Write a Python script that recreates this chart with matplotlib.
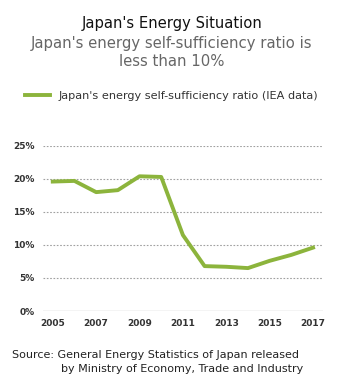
import matplotlib.pyplot as plt
from matplotlib.ticker import FuncFormatter

years = [2005, 2006, 2007, 2008, 2009, 2010, 2011, 2012, 2013, 2014, 2015, 2016, 2017]
ratio = [19.6, 19.7, 18.0, 18.3, 20.4, 20.3, 11.5, 6.8, 6.7, 6.5, 7.6, 8.5, 9.6]
year_ticks = [2005, 2007, 2009, 2011, 2013, 2015, 2017]
pct_ticks = [0, 5, 10, 15, 20, 25]

line_color = '#8cb43c'
tick_color = '#333333'

fig = plt.figure(figsize=(3.44, 3.77), dpi=100)
ax = fig.add_axes([0.125, 0.175, 0.814, 0.438])

ax.plot(years, ratio, color=line_color, linewidth=2.8, solid_joinstyle='round',
        label="Japan's energy self-sufficiency ratio (IEA data)")

ax.set_xlim(2004.55, 2017.46)
ax.set_ylim(0, 25)
ax.set_xticks(year_ticks)
ax.set_yticks(pct_ticks)
ax.yaxis.set_major_formatter(FuncFormatter(lambda v, p: f'{v:.0f}%'))

for v in pct_ticks[1:]:
    ax.axhline(v, color='#a0a0a0', linewidth=0.8, linestyle=(0, (1.5, 1.5)), zorder=0)
ax.axhline(0, color='#c8c8c8', linewidth=1.0, zorder=0)

for side in ['top', 'right', 'left', 'bottom']:
    ax.spines[side].set_visible(False)
ax.tick_params(length=0, labelsize=6.5, colors=tick_color, pad=6)
for lbl in ax.get_xticklabels() + ax.get_yticklabels():
    lbl.set_fontweight('bold')

fig.text(0.5, 0.937, "Japan's Energy Situation", ha='center', va='center',
         fontsize=10.6, color='#111111')
fig.text(0.5, 0.885, "Japan's energy self-sufficiency ratio is", ha='center',
         va='center', fontsize=10.7, color='#666666')
fig.text(0.5, 0.838, "less than 10%", ha='center', va='center',
         fontsize=10.7, color='#666666')

fig.legend(loc='center', bbox_to_anchor=(0.5, 0.745), frameon=False,
           fontsize=8.1, handlelength=2.2, handletextpad=0.8, labelcolor='#333333')

fig.text(0.035, 0.058, "Source: General Energy Statistics of Japan released",
         ha='left', va='center', fontsize=8.0, color='#222222')
fig.text(0.178, 0.022, "by Ministry of Economy, Trade and Industry",
         ha='left', va='center', fontsize=8.0, color='#222222')

fig.savefig('out.png', dpi=100)
